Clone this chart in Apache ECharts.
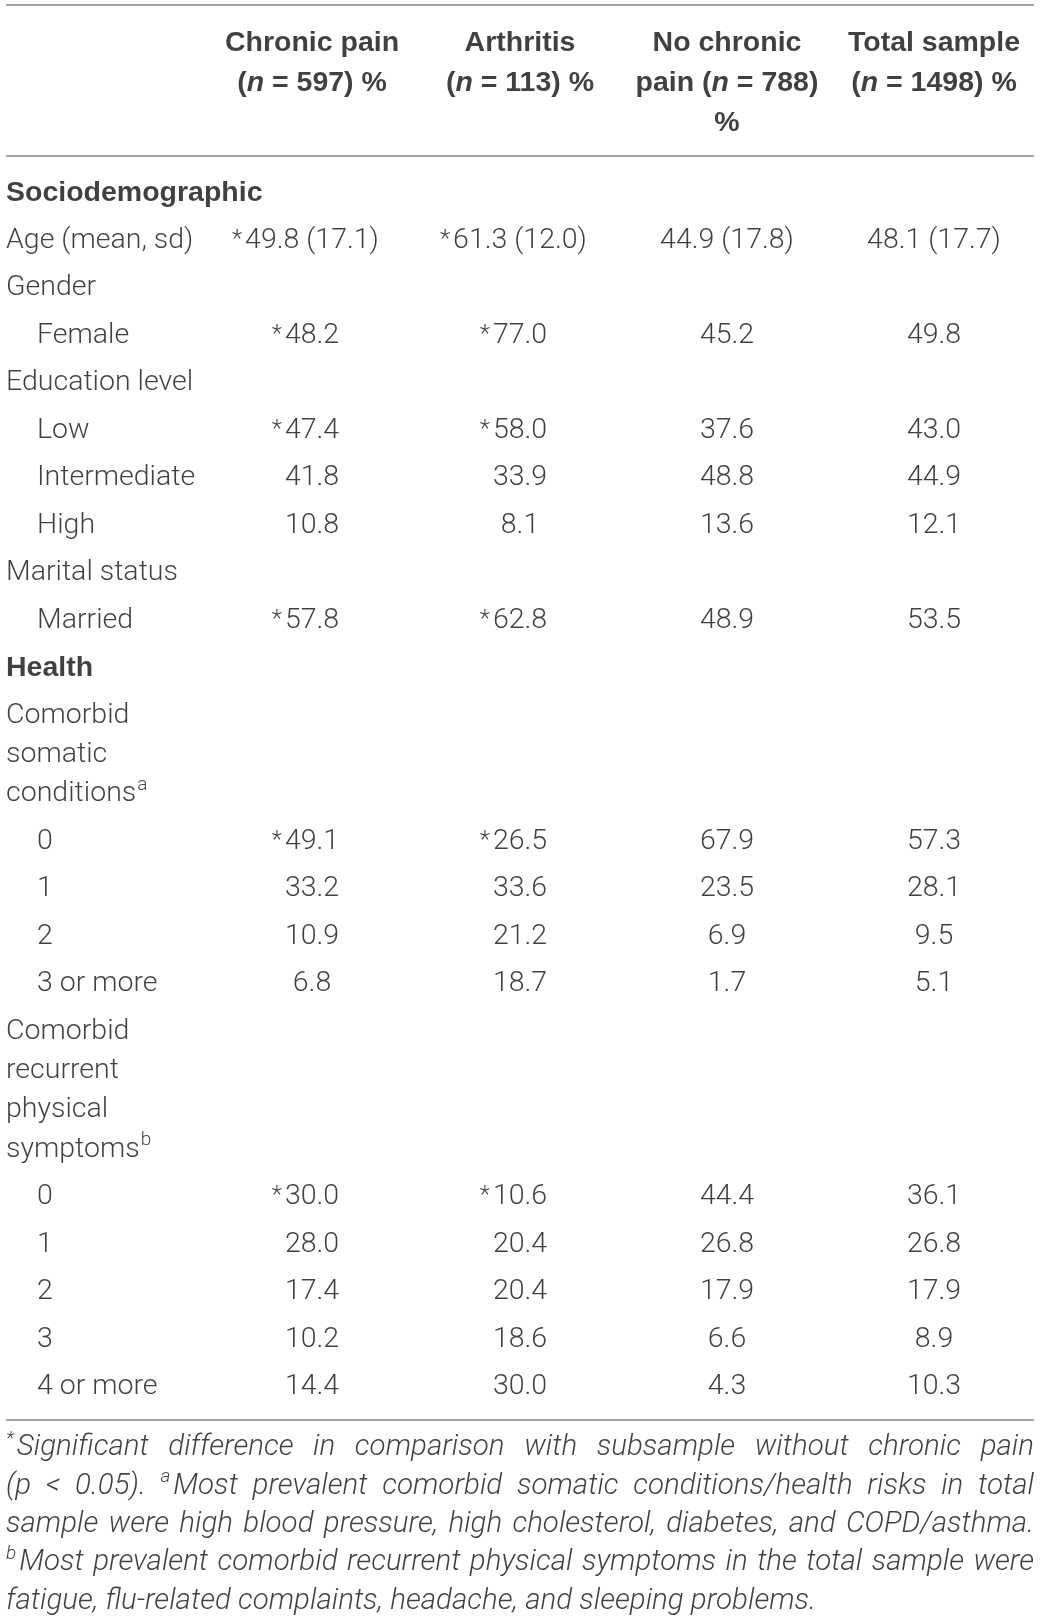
<!DOCTYPE html>
<html>
<head>
<meta charset="utf-8">
<script src="https://cdn.jsdelivr.net/npm/echarts@6/dist/echarts.min.js"></script>
<style>
  html, body { margin: 0; padding: 0; background: #fff; }
  #main { width: 1040px; height: 1616px; }
</style>
</head>
<body>
<div id="main"></div>
<script>
// table content
var headerLines = [
  ['Chronic pain', '({i|n} = 597) %'],
  ['Arthritis', '({i|n} = 113) %'],
  ['No chronic', 'pain ({i|n} = 788)', '%'],
  ['Total sample', '({i|n} = 1498) %']
];

var rowLabels = [
  ['Sociodemographic'], ['Age (mean, sd)'], ['Gender'], ['Female'],
  ['Education level'], ['Low'], ['Intermediate'], ['High'],
  ['Marital status'], ['Married'], ['Health'],
  ['Comorbid', 'somatic', 'conditions^a'], ['0'], ['1'], ['2'], ['3 or more'],
  ['Comorbid', 'recurrent', 'physical', 'symptoms^b'], ['0'], ['1'], ['2'], ['3'], ['4 or more']
];
var rowKinds = ['section', 'item', 'item', 'sub', 'item', 'sub', 'sub', 'sub', 'item', 'sub', 'section',
  'item', 'sub', 'sub', 'sub', 'sub', 'item', 'sub', 'sub', 'sub', 'sub', 'sub'];

var chronicPain = ['', '*49.8 (17.1)', '', '*48.2', '', '*47.4', '41.8', '10.8', '', '*57.8', '',
  '', '*49.1', '33.2', '10.9', '6.8', '', '*30.0', '28.0', '17.4', '10.2', '14.4'];
var arthritis = ['', '*61.3 (12.0)', '', '*77.0', '', '*58.0', '33.9', '8.1', '', '*62.8', '',
  '', '*26.5', '33.6', '21.2', '18.7', '', '*10.6', '20.4', '20.4', '18.6', '30.0'];
var noChronicPain = ['', '44.9 (17.8)', '', '45.2', '', '37.6', '48.8', '13.6', '', '48.9', '',
  '', '67.9', '23.5', '6.9', '1.7', '', '44.4', '26.8', '17.9', '6.6', '4.3'];
var totalSample = ['', '48.1 (17.7)', '', '49.8', '', '43.0', '44.9', '12.1', '', '53.5', '',
  '', '57.3', '28.1', '9.5', '5.1', '', '36.1', '26.8', '17.9', '8.9', '10.3'];

var footnoteLines = [
  '^*Significant difference in comparison with subsample without chronic pain',
  '(p < 0.05). ^aMost prevalent comorbid somatic conditions/health risks in total',
  'sample were high blood pressure, high cholesterol, diabetes, and COPD/asthma.',
  '^bMost prevalent comorbid recurrent physical symptoms in the total sample were',
  'fatigue, flu-related complaints, headache, and sleeping problems.'
];

// layout
var textColor = '#111011';
var ruleColor = '#a3a3a3';
var bodyFamily = 'Roboto';
var boldFamily = '"Liberation Sans", Arial, sans-serif';
var bodySize = 28.5;
var boldSize = 28.5;
var noteSize = 29.5;
var supSize = 19;
var supRaise = 9;
var starSize = 24;
var leftX = 6, rightX = 1034, subX = 37;
var colCenters = [312, 520, 727, 934];
var topRule = 5, headTop = 43, headStep = 40, midRule = 156;
var firstRow = 193, rowStep = 47.5, lineStep = 39.3;

var canvas = document.createElement('canvas');
var ctx = canvas.getContext('2d');
function textWidth(s, font) { ctx.font = font; return ctx.measureText(s).width; }
var bodyFont = '300 ' + bodySize + 'px ' + bodyFamily;
var noteFont = 'italic 300 ' + noteSize + 'px ' + bodyFamily;
var noteSupFont = 'italic 300 ' + supSize + 'px ' + bodyFamily;

var cells = [];
function cell(x, y, text, extra) {
  var lab = { align: 'center' };
  for (var k in extra) lab[k] = extra[k];
  cells.push({ value: [x, y], name: text, label: lab });
}
var boldStyle = { fontWeight: 'bold', fontFamily: boldFamily, fontSize: boldSize };

// header
headerLines.forEach(function (lines, c) {
  lines.forEach(function (t, j) {
    cell(colCenters[c], headTop + j * headStep, t, boldStyle);
  });
});

// body rows
var rowY = [];
var y = firstRow;
rowLabels.forEach(function (lines, i) {
  rowY.push(y);
  var kind = rowKinds[i];
  var x0 = kind === 'sub' ? subX : leftX;
  lines.forEach(function (t, j) {
    var st = { align: 'left' };
    if (kind === 'section') { st.fontWeight = 'bold'; st.fontFamily = boldFamily; st.fontSize = boldSize; }
    var parts = t.split('^');
    var yy = y + j * lineStep;
    cell(x0, yy, parts[0], st);
    if (parts[1]) {
      cell(x0 + textWidth(parts[0], bodyFont) + 1, yy - supRaise, parts[1], { align: 'left', fontSize: supSize });
    }
  });
  y += rowStep + lineStep * (lines.length - 1);
});

[chronicPain, arthritis, noChronicPain, totalSample].forEach(function (col, c) {
  col.forEach(function (v, i) {
    if (!v) return;
    var star = v.charAt(0) === '*';
    var num = star ? v.slice(1) : v;
    cell(colCenters[c], rowY[i], num, {});
    if (star) {
      var w = textWidth(num, bodyFont);
      cell(colCenters[c] - w / 2 - 3, rowY[i] - 1, '*', { align: 'right', fontSize: starSize });
    }
  });
});

var bottomRule = rowY[rowY.length - 1] + 33;

// footnote, justified word by word
var noteTop = bottomRule + 28, noteStep = 38.3;
footnoteLines.forEach(function (line, li) {
  var words = line.split(' ').map(function (w) {
    var sup = '', rest = w;
    if (w.charAt(0) === '^') { sup = w.charAt(1); rest = w.slice(2); }
    var sw = sup ? textWidth(sup, noteSupFont) + 3 : 0;
    return { sup: sup, supWidth: sw, text: rest, width: textWidth(rest, noteFont) + sw };
  });
  var total = words.reduce(function (s, w) { return s + w.width; }, 0);
  var last = li === footnoteLines.length - 1;
  var gap = last ? textWidth(' ', noteFont) : (rightX - leftX - total) / (words.length - 1);
  var x = leftX;
  var ly = noteTop + li * noteStep;
  words.forEach(function (w) {
    if (w.sup) {
      cell(x, ly - supRaise, w.sup, { align: 'left', fontStyle: 'italic', fontSize: supSize });
    }
    cell(x + w.supWidth, ly, w.text, { align: 'left', fontStyle: 'italic', fontSize: noteSize });
    x += w.width + gap;
  });
});

function rule(yy) {
  return {
    type: 'line', silent: true, symbol: 'none', animation: false,
    lineStyle: { color: ruleColor, width: 2 },
    data: [[leftX, yy], [rightX, yy]]
  };
}

var myChart = echarts.init(document.getElementById('main'), null, { renderer: 'canvas' });
var option = {
  backgroundColor: '#fff',
  animation: false,
  grid: { left: 0, right: 0, top: 0, bottom: 0, containLabel: false },
  xAxis: { type: 'value', min: 0, max: 1040, show: false },
  yAxis: { type: 'value', min: 0, max: 1616, inverse: true, show: false },
  series: [
    rule(topRule), rule(midRule), rule(bottomRule),
    {
      type: 'scatter',
      symbolSize: 0,
      silent: true,
      clip: false,
      label: {
        show: true,
        position: 'inside',
        verticalAlign: 'middle',
        color: textColor,
        fontFamily: bodyFamily,
        fontSize: bodySize,
        fontWeight: 300,
        formatter: function (p) { return p.name; },
        rich: {
          i: { fontStyle: 'italic', fontWeight: 'bold', fontSize: boldSize, fontFamily: boldFamily, color: textColor }
        }
      },
      emphasis: { disabled: true },
      data: cells
    }
  ]
};
myChart.setOption(option);
</script>
</body>
</html>
